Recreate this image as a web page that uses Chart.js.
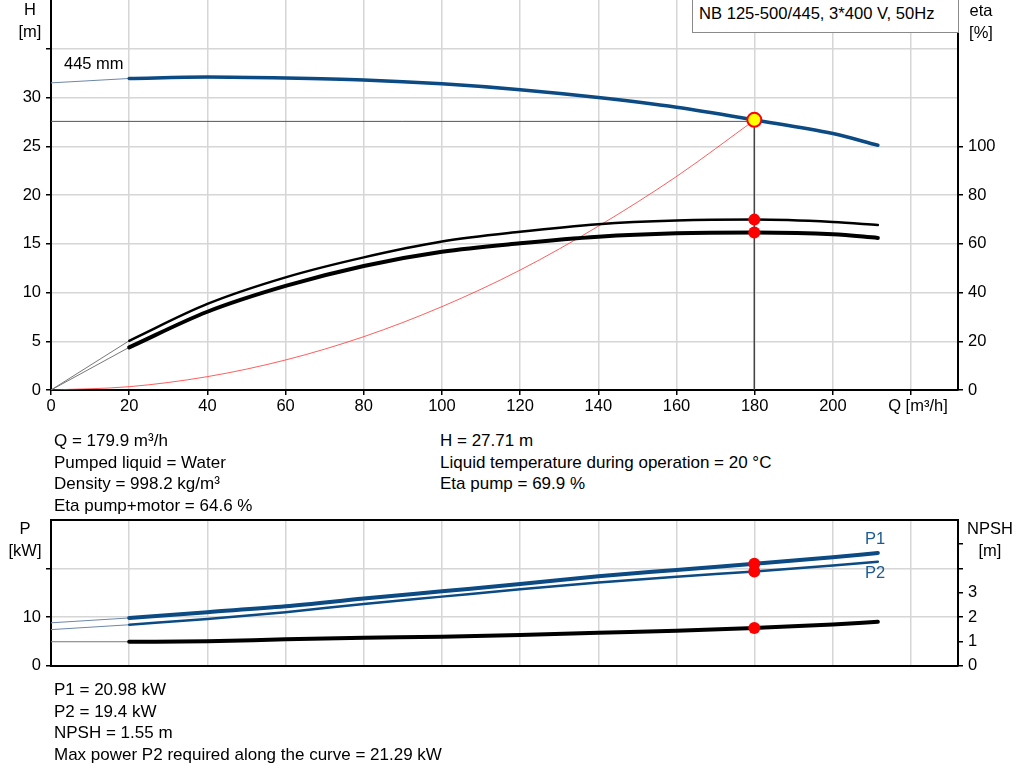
<!DOCTYPE html>
<html>
<head>
<meta charset="utf-8">
<script src="https://cdn.jsdelivr.net/npm/chart.js@4.4.1/dist/chart.umd.min.js"></script>
<style>
  body { margin: 0; background: #fff; width: 1024px; height: 781px; overflow: hidden; position: relative;
         font-family: "Liberation Sans", Arial, sans-serif; color: #000; }
  canvas { position: absolute; left: 0; }
  .t { position: absolute; font-size: 17px; line-height: 21.5px; white-space: nowrap; }
  .c { text-align: center; width: 60px; font-size: 16.5px; }
  #info { position: absolute; left: 692px; top: -1px; height: 34px; border: 1px solid #8a8a8a;
          background: #fff; font-size: 16.6px; line-height: 28px; padding-left: 6px; box-sizing: border-box; width: 267px; }
</style>
</head>
<body>
<canvas id="topChart" width="1024" height="420" style="top:0"></canvas>
<canvas id="botChart" width="1024" height="170" style="top:510px"></canvas>

<div id="info">NB 125-500/445, 3*400 V, 50Hz</div>
<div class="t c" style="left:0px;top:-1px">H<br>[m]</div>
<div class="t c" style="left:951px;top:0px">eta<br>[%]</div>
<div class="t" style="left:64px;top:53px;font-size:16.5px">445 mm</div>

<div class="t" style="left:54px;top:430px">Q = 179.9 m³/h<br>Pumped liquid = Water<br>Density = 998.2 kg/m³<br>Eta pump+motor = 64.6 %</div>
<div class="t" style="left:440px;top:430px">H = 27.71 m<br>Liquid temperature during operation = 20 °C<br>Eta pump = 69.9 %</div>

<div class="t c" style="left:-5px;top:518px">P<br>[kW]</div>
<div class="t c" style="left:960px;top:518px">NPSH<br>[m]</div>
<div class="t" style="left:865px;top:528px;color:#1d5a8e;font-size:16.5px">P1</div>
<div class="t" style="left:865px;top:562px;color:#1d5a8e;font-size:16.5px">P2</div>

<div class="t" style="left:54px;top:679px">P1 = 20.98 kW<br>P2 = 19.4 kW<br>NPSH = 1.55 m<br>Max power P2 required along the curve = 21.29 kW</div>

<script>
// curve data
const flowQ    = [20, 40, 60, 80, 100, 120, 140, 160, 180, 200, 211.5];
const headH    = [31.95, 32.1, 32.0, 31.8, 31.4, 30.8, 30.0, 29.0, 27.7, 26.3, 25.1];
const etaPump  = [20.2, 35.3, 46.2, 54.4, 60.9, 64.9, 68.0, 69.5, 69.9, 68.9, 67.7];
const etaTotal = [17.5, 32.1, 42.7, 50.9, 56.7, 60.2, 62.9, 64.3, 64.6, 63.9, 62.4];
const powerP1  = [9.8, 11.0, 12.2, 13.8, 15.3, 16.8, 18.4, 19.7, 20.98, 22.3, 23.2];
const powerP2  = [8.4, 9.6, 11.0, 12.7, 14.2, 15.7, 17.1, 18.3, 19.4, 20.6, 21.4];
const npshR    = [0.98, 1.0, 1.08, 1.14, 1.19, 1.26, 1.35, 1.43, 1.55, 1.69, 1.80];

// thin extensions below Q = 20
const extQ        = [0, 20];
const headExt     = [31.5, 31.95];
const etaPumpExt  = [0, 20.2];
const etaTotalExt = [0, 17.5];
const p1Ext       = [8.8, 9.8];
const p2Ext       = [7.4, 8.4];
const npshExt     = [0.98, 0.98];

// system curve up to the duty point
const sysQ = [0, 20, 40, 60, 80, 100, 120, 140, 160, 180];
const sysH = [0, 0.34, 1.37, 3.08, 5.47, 8.55, 12.3, 16.8, 21.9, 27.7];

// duty point
const dutyQ = 179.9, dutyH = 27.71, dutyLineH = 27.55;
const dutyEtaPump = 69.9, dutyEtaTotal = 64.6;
const dutyP1 = 20.98, dutyP2 = 19.4, dutyNpsh = 1.55;

const qTicks = [0, 20, 40, 60, 80, 100, 120, 140, 160, 180, 200, 220];

const BLUE = '#0b4a82';
const GRID = '#d6d6d6';
const FONT = { family: '"Liberation Sans", Arial, sans-serif', size: 16.5 };

function pts(xs, ys) { return xs.map((x, i) => ({ x: x, y: ys[i] })); }

function line(data, color, width, axis, order, smooth) {
  const ds = { type: 'line', data: data, borderColor: color, borderWidth: width, yAxisID: axis,
               pointRadius: 0, fill: false, tension: 0, order: order, borderCapStyle: 'round' };
  if (smooth) ds.cubicInterpolationMode = 'monotone';
  return ds;
}
function dot(data, axis, r, fillCol, border, bw, order) {
  return { type: 'scatter', data: data, yAxisID: axis, pointRadius: r, pointBackgroundColor: fillCol,
           pointBorderColor: border, pointBorderWidth: bw, showLine: false, order: order };
}

const xScale = (labels) => ({
  type: 'linear', min: 0, max: 232,
  afterBuildTicks: s => { s.ticks = qTicks.map(v => ({ value: v })); },
  afterFit: s => { s.height = labels ? 30 : 14.5; s.paddingLeft = 0; s.paddingRight = 0; },
  border: { color: '#000', width: 2 },
  grid: { color: GRID, lineWidth: 1.5, tickColor: '#000', tickLength: 5, drawTicks: labels },
  ticks: { display: labels, color: '#000', font: FONT, padding: 2, maxRotation: 0,
           callback: v => v === 220 ? '   Q [m³/h]' : v }
});

const sideScale = (pos, max, step, width, onArea, cb) => ({
  type: 'linear', position: pos, min: 0, max: max,
  afterFit: s => { s.width = width; s.paddingTop = 0; s.paddingBottom = 0; },
  border: { color: '#000', width: 2 },
  grid: { drawOnChartArea: onArea, color: GRID, lineWidth: 1.5, tickColor: '#000', tickLength: 5 },
  ticks: { stepSize: step, color: '#000', font: FONT, padding: 5, callback: cb }
});

const topBorder = {
  id: 'topBorder',
  afterDraw(chart) {
    const a = chart.chartArea, ctx = chart.ctx;
    ctx.save();
    ctx.strokeStyle = '#000';
    ctx.lineWidth = 2;
    ctx.beginPath();
    ctx.moveTo(a.left, a.top);
    ctx.lineTo(a.right, a.top);
    ctx.stroke();
    ctx.restore();
  }
};

const common = {
  responsive: false, animation: false, devicePixelRatio: 1,
  plugins: { legend: { display: false }, tooltip: { enabled: false } },
  events: []
};

new Chart(document.getElementById('topChart'), {
  type: 'line',
  data: {
    datasets: [
      dot([{ x: dutyQ, y: dutyH }], 'h', 7, '#ffff00', '#ff0000', 2, 0),
      dot([{ x: dutyQ, y: dutyEtaPump }, { x: dutyQ, y: dutyEtaTotal }], 'eta', 6, '#ff0000', '#ff0000', 0, 1),
      line(pts(flowQ, headH), BLUE, 3.5, 'h', 2, true),
      line(pts(flowQ, etaPump), '#000', 2.5, 'eta', 3, true),
      line(pts(flowQ, etaTotal), '#000', 4, 'eta', 3, true),
      line(pts(sysQ, sysH), 'rgba(255,40,40,0.75)', 1, 'h', 4, true),
      line([{ x: 0, y: dutyLineH }, { x: dutyQ, y: dutyLineH }], '#555', 1, 'h', 5),
      line([{ x: dutyQ, y: dutyH }, { x: dutyQ, y: 0 }], '#444', 1, 'h', 5),
      line(pts(extQ, headExt), '#6d87a8', 1, 'h', 6),
      line(pts(extQ, etaPumpExt), '#777', 1, 'eta', 6),
      line(pts(extQ, etaTotalExt), '#777', 1, 'eta', 6)
    ]
  },
  options: Object.assign({}, common, {
    layout: { padding: 0, autoPadding: false },
    scales: {
      x: xScale(true),
      h: sideScale('left', 40, 5, 51, true, v => v === 40 ? null : (v === 35 ? '' : v)),
      eta: sideScale('right', 160, 20, 66, false, v => v > 100 ? null : v)
    }
  })
});

new Chart(document.getElementById('botChart'), {
  type: 'line',
  data: {
    datasets: [
      dot([{ x: dutyQ, y: dutyP1 }, { x: dutyQ, y: dutyP2 }], 'p', 6, '#ff0000', '#ff0000', 0, 0),
      dot([{ x: dutyQ, y: dutyNpsh }], 'npsh', 6, '#ff0000', '#ff0000', 0, 0),
      line(pts(flowQ, powerP1), BLUE, 4, 'p', 2, true),
      line(pts(flowQ, powerP2), BLUE, 2.5, 'p', 2, true),
      line(pts(flowQ, npshR), '#000', 4, 'npsh', 2, true),
      line(pts(extQ, p1Ext), '#6d87a8', 1, 'p', 6),
      line(pts(extQ, p2Ext), '#6d87a8', 1, 'p', 6),
      line(pts(extQ, npshExt), '#777', 1, 'npsh', 6)
    ]
  },
  options: Object.assign({}, common, {
    layout: { padding: { top: 10 }, autoPadding: false },
    scales: {
      x: xScale(false),
      p: sideScale('left', 30, 10, 51, true, v => v === 30 ? null : (v === 20 ? '' : v)),
      npsh: sideScale('right', 6, 1, 66, false, v => v === 6 ? null : (v > 3 ? '' : v))
    }
  }),
  plugins: [topBorder]
});
</script>
</body>
</html>
